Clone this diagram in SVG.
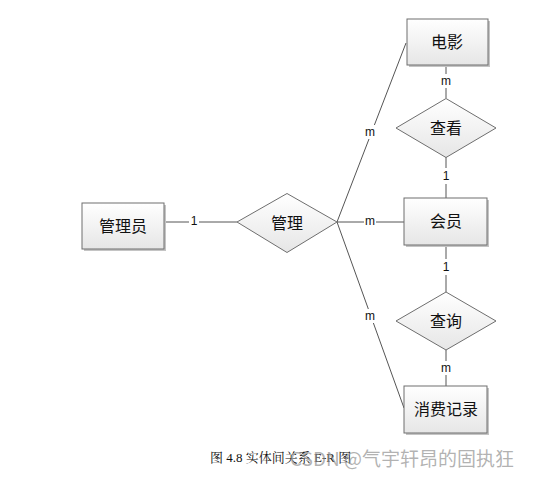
<svg xmlns="http://www.w3.org/2000/svg" width="535" height="477" viewBox="0 0 535 477">
<defs>
<linearGradient id="g" x1="0" y1="0" x2="0" y2="1">
<stop offset="0" stop-color="#ffffff"/>
<stop offset="1" stop-color="#e6e6e6"/>
</linearGradient>
<style>
.shadow{fill:#c4c4c4;}
.box{fill:url(#g);stroke:#6e6e6e;stroke-width:1;}
.dia{fill:url(#g);stroke:#6e6e6e;stroke-width:1;}
.t{font-family:"Noto Sans CJK SC","Microsoft YaHei",sans-serif;font-size:16px;fill:#111;text-anchor:middle;dominant-baseline:central;}
.lbl{font-family:"Liberation Sans",Arial,sans-serif;font-size:12px;fill:#111;text-anchor:middle;dominant-baseline:central;}
.lb{fill:#fff;}
.c{stroke:#555;stroke-width:1;fill:none;}
</style>
</defs>
<rect width="535" height="477" fill="#fff"/>
<g id="connectors">
<line class="c" x1="164" y1="222" x2="237" y2="222"/>
<line class="c" x1="337" y1="222" x2="404" y2="222"/>
<line class="c" x1="337" y1="222" x2="406" y2="43"/>
<line class="c" x1="337" y1="222" x2="404" y2="408"/>
<line class="c" x1="446" y1="65" x2="446" y2="98"/>
<line class="c" x1="446" y1="157" x2="446" y2="198"/>
<line class="c" x1="446" y1="245" x2="446" y2="292"/>
<line class="c" x1="446" y1="350" x2="446" y2="386"/>
<rect class="lb" x="189" y="214" width="10" height="15"/>
<text class="lbl" x="194" y="221">1</text>
<rect class="lb" x="364" y="215" width="12" height="14"/>
<text class="lbl" x="370" y="221">m</text>
<rect class="lb" x="364" y="125" width="12" height="14"/>
<text class="lbl" x="370" y="132">m</text>
<rect class="lb" x="364" y="309" width="12" height="14"/>
<text class="lbl" x="370" y="316">m</text>
<rect class="lb" x="440" y="74" width="12" height="14"/>
<text class="lbl" x="446" y="81">m</text>
<rect class="lb" x="441" y="168" width="10" height="16"/>
<text class="lbl" x="446" y="176">1</text>
<rect class="lb" x="441" y="259" width="10" height="16"/>
<text class="lbl" x="446" y="267">1</text>
<rect class="lb" x="440" y="361" width="12" height="14"/>
<text class="lbl" x="446" y="368">m</text>
</g>
<g id="admin">
<rect class="shadow" x="84" y="205" width="82" height="46"/>
<rect class="box" x="82" y="203" width="82" height="46"/>
<text class="t" x="123" y="225">管理员</text>
</g>
<g id="manage">
<polygon class="dia" points="237,222 287,193.5 337,222 287,252.5"/>
<text class="t" x="287" y="222">管理</text>
</g>
<g id="movie">
<rect class="shadow" x="409" y="21" width="81" height="46"/>
<rect class="box" x="407" y="19" width="81" height="46"/>
<text class="t" x="447" y="41">电影</text>
</g>
<g id="view">
<polygon class="dia" points="396,128 446,98.5 496,128 446,157.5"/>
<text class="t" x="446" y="127">查看</text>
</g>
<g id="member">
<rect class="shadow" x="406" y="200" width="83" height="47"/>
<rect class="box" x="404" y="198" width="83" height="47"/>
<text class="t" x="446" y="220">会员</text>
</g>
<g id="query">
<polygon class="dia" points="396,321 446,292 496,321 446,350"/>
<text class="t" x="446" y="320">查询</text>
</g>
<g id="record">
<rect class="shadow" x="406" y="388" width="83" height="47"/>
<rect class="box" x="404" y="386" width="83" height="47"/>
<text class="t" x="446" y="408">消费记录</text>
</g>
<text x="210" y="462" font-family="'Liberation Serif','Noto Serif CJK SC','Noto Sans CJK SC',serif" font-size="13" fill="#111">图 4.8 实体间关系 E-R 图</text>
<text x="290" y="466" font-family="'Noto Sans CJK SC',sans-serif" font-size="19" fill="#999" fill-opacity="0.75">CSDN @气宇轩昂的固执狂</text>
</svg>
